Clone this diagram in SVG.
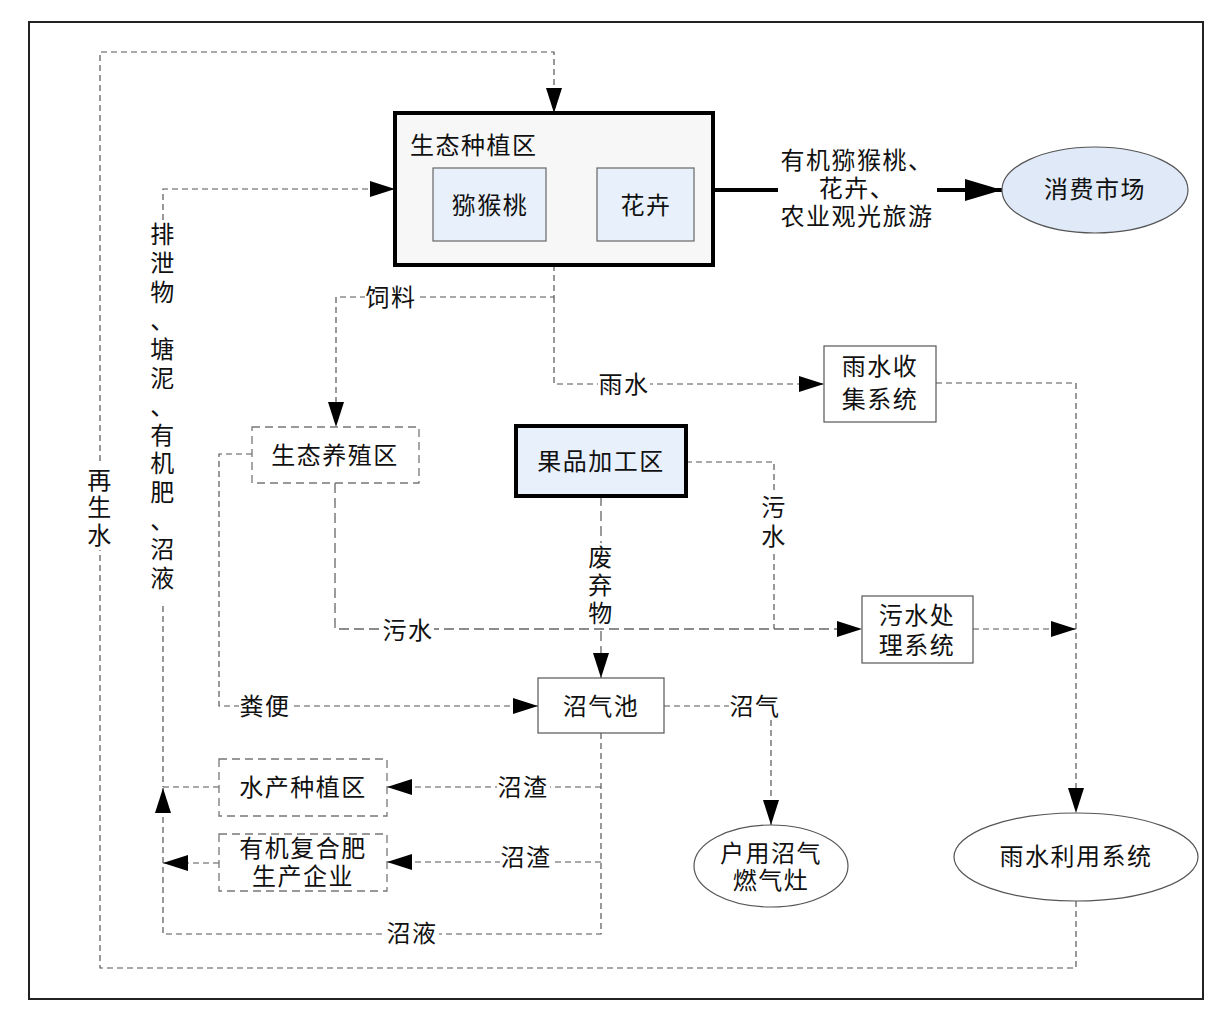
<svg xmlns="http://www.w3.org/2000/svg" width="1232" height="1035" viewBox="0 0 1232 1035">
<style>
text{font-family:"Liberation Sans","Noto Sans CJK SC",sans-serif;font-size:24px;fill:#111;text-anchor:middle;dominant-baseline:central;letter-spacing:1.5px}
.t{text-anchor:start}
.box{fill:#fff;stroke:#555;stroke-width:1.2}
.dbox{fill:#fff;stroke:#777;stroke-width:1.3;stroke-dasharray:8 5}
.thick{fill:#f7f7f7;stroke:#000;stroke-width:4}
.blue{fill:#e8f0fb;stroke:#666;stroke-width:1.2}
.d{fill:none;stroke:#555;stroke-width:1.2;stroke-dasharray:6 4}
.dl{fill:none;stroke:#666;stroke-width:1.3;stroke-dasharray:10 5}
.k{fill:none;stroke:#000;stroke-width:4}
.bg{fill:#fff}
</style>
<defs>
<marker id="a" markerUnits="userSpaceOnUse" markerWidth="26" markerHeight="18" refX="25" refY="8" orient="auto"><path d="M0,0 L25,8 L0,16 Z" fill="#000"/></marker>
<marker id="A" markerUnits="userSpaceOnUse" markerWidth="38" markerHeight="24" refX="37" refY="11" orient="auto"><path d="M0,0 L37,11 L0,22 Z" fill="#000"/></marker>
</defs>
<rect x="0" y="0" width="1232" height="1035" fill="#fff"/>
<rect x="29" y="22" width="1174" height="977" fill="none" stroke="#222" stroke-width="2"/>

<g id="connectors">
<path class="d" d="M1076,901 V968 H100 V52 H554 V113" marker-end="url(#a)"/>
<path class="d" d="M163,606 V787"/>
<path class="d" d="M219,787 H163"/>
<path class="d" d="M219,863 H163" marker-end="url(#a)"/>
<path class="d" d="M601,733 V934 H163 V788" marker-end="url(#a)"/>
<path class="d" d="M163,220 V189 H395" marker-end="url(#a)"/>
<path class="d" d="M554,265 V297 H336 V427" marker-end="url(#a)"/>
<path class="d" d="M554,297 V384 H824" marker-end="url(#a)"/>
<path class="d" d="M936,383 H1076 V813" marker-end="url(#a)"/>
<path class="d" d="M686,462 H774 V629"/>
<path class="dl" d="M335,483 V629 H862" marker-end="url(#a)"/>
<path class="dl" d="M601,496 V678" marker-end="url(#a)"/>
<path class="d" d="M973,629 H1076" marker-end="url(#a)"/>
<path class="d" d="M252,454 H219 V706 H538" marker-end="url(#a)"/>
<path class="d" d="M664,706 H740"/>
<path class="d" d="M771,720 V825" marker-end="url(#a)"/>
<path class="d" d="M601,787 H387" marker-end="url(#a)"/>
<path class="d" d="M601,862 H387" marker-end="url(#a)"/>
<path class="k" d="M713,190 H778"/>
<path class="k" d="M937,190 H1002" marker-end="url(#A)"/>
</g>

<g id="labels">
<rect class="bg" x="86" y="464" width="28" height="86"/>
<text><tspan x="100" y="480">再</tspan><tspan x="100" y="507">生</tspan><tspan x="100" y="535">水</tspan></text>
<rect class="bg" x="149" y="220" width="28" height="372"/>
<text><tspan x="163" y="234">排</tspan><tspan x="163" y="263">泄</tspan><tspan x="163" y="292">物</tspan><tspan x="163" y="320">、</tspan><tspan x="163" y="349">塘</tspan><tspan x="163" y="378">泥</tspan><tspan x="163" y="406">、</tspan><tspan x="163" y="435">有</tspan><tspan x="163" y="463">机</tspan><tspan x="163" y="492">肥</tspan><tspan x="163" y="520">、</tspan><tspan x="163" y="549">沼</tspan><tspan x="163" y="578">液</tspan></text>
<rect class="bg" x="365" y="284" width="53" height="26"/>
<text x="391" y="297">饲料</text>
<rect class="bg" x="598" y="371" width="52" height="26"/>
<text x="624" y="384">雨水</text>
<rect class="bg" x="382" y="617" width="52" height="26"/>
<text x="408" y="630">污水</text>
<rect class="bg" x="761" y="493" width="26" height="58"/>
<text><tspan x="774" y="507">污</tspan><tspan x="774" y="536">水</tspan></text>
<rect class="bg" x="588" y="543" width="26" height="85"/>
<text><tspan x="601" y="557">废</tspan><tspan x="601" y="585">弃</tspan><tspan x="601" y="613">物</tspan></text>
<rect class="bg" x="239" y="693" width="52" height="26"/>
<text x="265" y="706">粪便</text>
<rect class="bg" x="729" y="693" width="53" height="26"/>
<text x="755" y="706">沼气</text>
<rect class="bg" x="497" y="774" width="53" height="26"/>
<text x="523" y="787">沼渣</text>
<rect class="bg" x="500" y="845" width="53" height="26"/>
<text x="526" y="857">沼渣</text>
<rect class="bg" x="386" y="921" width="53" height="26"/>
<text x="412" y="933">沼液</text>
<text x="857" y="160">有机猕猴桃、</text>
<text x="857" y="188">花卉、</text>
<text x="857" y="216">农业观光旅游</text>
</g>

<g id="n-zhongzhi">
<rect class="thick" x="395" y="113" width="318" height="152"/>
<text class="t" x="410" y="145">生态种植区</text>
</g>
<g id="n-mihoutao">
<rect class="blue" x="433" y="168" width="113" height="73"/>
<text x="490" y="205">猕猴桃</text>
</g>
<g id="n-huahui">
<rect class="blue" x="597" y="168" width="97" height="73"/>
<text x="646" y="205">花卉</text>
</g>
<g id="n-xiaofei">
<ellipse cx="1095" cy="190" rx="93" ry="43" fill="#dfe9f7" stroke="#555" stroke-width="1.2"/>
<text x="1095" y="189">消费市场</text>
</g>
<g id="n-yushuishouji">
<rect class="box" x="824" y="346" width="112" height="76"/>
<text x="880" y="366">雨水收</text>
<text x="880" y="399">集系统</text>
</g>
<g id="n-yangzhi">
<rect class="dbox" x="252" y="427" width="167" height="56"/>
<text x="335" y="455">生态养殖区</text>
</g>
<g id="n-guopin">
<rect x="516" y="426" width="170" height="70" fill="#e8f0fb" stroke="#000" stroke-width="4"/>
<text x="601" y="461">果品加工区</text>
</g>
<g id="n-wushui">
<rect class="box" x="862" y="596" width="111" height="67"/>
<text x="917" y="615">污水处</text>
<text x="917" y="645">理系统</text>
</g>
<g id="n-zhaoqichi">
<rect class="box" x="538" y="678" width="126" height="55"/>
<text x="601" y="706">沼气池</text>
</g>
<g id="n-shuichan">
<rect class="dbox" x="219" y="759" width="168" height="57"/>
<text x="303" y="787">水产种植区</text>
</g>
<g id="n-feiliao">
<rect class="dbox" x="219" y="834" width="168" height="57"/>
<text x="303" y="848">有机复合肥</text>
<text x="303" y="876">生产企业</text>
</g>
<g id="n-huyong">
<ellipse cx="771" cy="866" rx="77" ry="41" fill="#fff" stroke="#555" stroke-width="1.2"/>
<text x="771" y="853">户用沼气</text>
<text x="771" y="880">燃气灶</text>
</g>
<g id="n-yushuiliyong">
<ellipse cx="1076" cy="857" rx="122" ry="44" fill="#fff" stroke="#555" stroke-width="1.2"/>
<text x="1076" y="856">雨水利用系统</text>
</g>
</svg>
